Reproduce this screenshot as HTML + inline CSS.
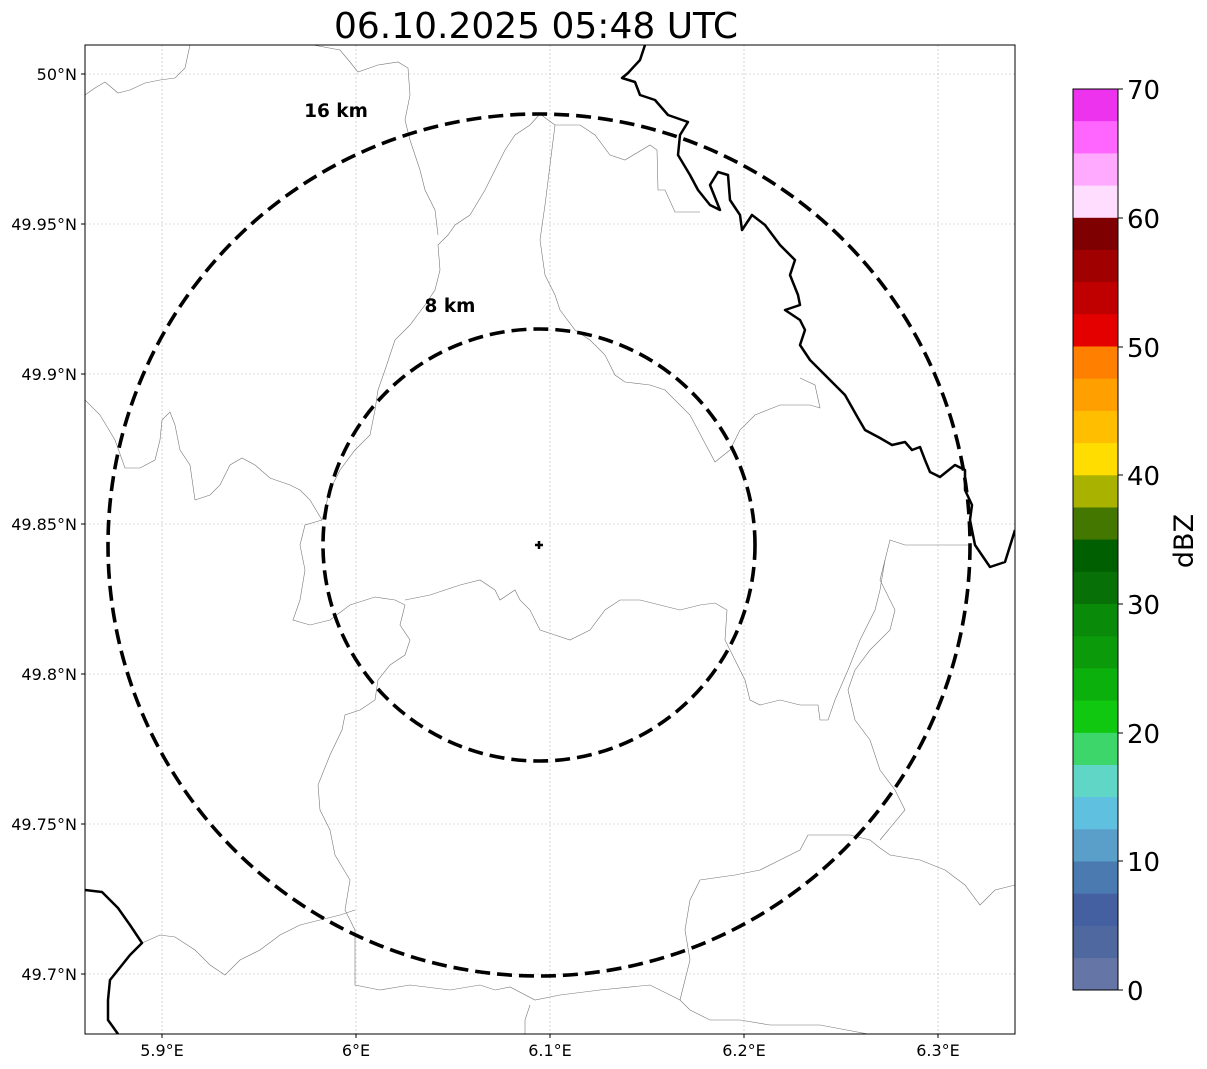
<!DOCTYPE html>
<html><head><meta charset="utf-8"><style>
html,body{margin:0;padding:0;background:#fff;}
svg{display:block;font-family:"DejaVu Sans","Liberation Sans",sans-serif;}
</style></head><body>
<svg width="1207" height="1069" viewBox="0 0 1207 1069" xmlns="http://www.w3.org/2000/svg">
<rect width="1207" height="1069" fill="#fff"/>
<text x="536" y="38" font-size="36" text-anchor="middle">06.10.2025 05:48 UTC</text>
<defs><clipPath id="c"><rect x="85" y="45" width="930" height="989"/></clipPath></defs>
<g clip-path="url(#c)">
<g stroke="#bbb" stroke-width="0.6" stroke-dasharray="2,2">
<line x1="162" y1="45" x2="162" y2="1034"/><line x1="356" y1="45" x2="356" y2="1034"/><line x1="550" y1="45" x2="550" y2="1034"/><line x1="744" y1="45" x2="744" y2="1034"/><line x1="938" y1="45" x2="938" y2="1034"/>
<line x1="85" y1="74" x2="1015" y2="74"/><line x1="85" y1="224" x2="1015" y2="224"/><line x1="85" y1="374" x2="1015" y2="374"/><line x1="85" y1="524" x2="1015" y2="524"/><line x1="85" y1="674" x2="1015" y2="674"/><line x1="85" y1="824" x2="1015" y2="824"/><line x1="85" y1="974" x2="1015" y2="974"/>
</g>
<g fill="none" stroke="#777" stroke-width="0.6">
<polyline points="85,95 95,88 105,82 118,93 130,90 145,83 160,80 175,78 185,68 190,45"/>
<polyline points="313,45 340,50 350,62 358,72 378,65 398,62 408,68 410,95 405,120 410,140 420,170 425,190 435,210 438,235"/>
<polyline points="540,114 530,125 515,135 505,150 495,170 485,190 470,215 455,225 448,235 438,245 440,270 435,290 425,305 410,325 395,340 390,355 385,370 378,390 375,410 370,435 355,450 340,470 330,490 322,520 305,525 300,545 305,570 300,600 293,620 310,625 330,620 350,605 375,597 395,600 405,605 400,625 410,640 405,655 390,665 378,680 375,700 360,710 345,715 342,730 330,755 318,785 320,810 330,830 335,855 350,880 345,910 355,930 355,985 380,990 410,985 450,990 480,985 495,990 510,987 535,1000 560,995 600,990 650,985 680,1000 690,1010 710,1020 740,1020 770,1025 820,1025 868,1034"/>
<polyline points="405,600 430,595 460,585 480,580 495,590 500,600 515,590 520,600 530,610 540,630 555,635 570,640 590,630 605,610 620,600 640,600 660,605 680,610 700,605 715,603 727,610 725,640 735,660 745,680 750,700 760,705 780,700 800,705 818,705 820,720 828,720 835,700 848,670 860,640 875,610 880,590 885,560 890,540 905,545 940,545 968,545"/>
<polyline points="540,114 555,125 550,165 545,205 540,240 545,275 555,295 560,310 575,330 590,340 605,355 615,375 625,382 650,385 665,390 690,415 715,462 730,450 740,430 755,415 780,405 810,405 820,408 815,385 800,378"/>
<polyline points="555,125 580,125 595,135 610,155 625,160 650,145 657,150 658,190 665,190 675,212 700,212"/>
<polyline points="85,400 100,415 115,440 125,468 140,468 155,460 160,440 162,420 170,412 175,425 180,450 190,465 195,500 210,495 220,485 230,465 242,458 255,465 270,478 290,485 300,490 310,500 322,520"/>
<polyline points="142,943 160,935 175,937 195,950 210,965 225,975 240,960 260,950 280,935 300,925 320,920 340,915 355,910"/>
<polyline points="885,560 880,580 895,610 890,630 870,650 855,670 848,690 855,720 870,740 880,770 895,790 905,810 880,840"/>
<polyline points="808,835 850,835 870,840 880,848 890,855 920,860 945,870 965,885 980,905 995,890 1015,885"/>
<polyline points="808,835 800,850 780,860 760,870 735,875 700,880 690,900 685,930 690,960 680,1000"/>
<polyline points="525,1034 525,1020 530,1005"/>
</g>
<g fill="none" stroke="#000" stroke-width="2.5" stroke-linejoin="round">
<polyline points="645,45 640,60 628,73 622,78 635,82 640,95 655,100 668,115 688,122 680,135 678,155 690,175 698,190 710,205 720,210 710,185 718,172 728,175 730,200 740,215 742,230 752,215 765,225 780,245 795,260 790,275 798,295 800,305 785,310 800,320 805,330 800,345 810,360 820,370 835,385 845,395 858,418 865,430 880,438 892,445 905,442 912,450 920,447 925,460 930,472 940,477 955,465 965,470 965,490 972,505 970,520 975,545 990,567 1005,562 1015,530"/>
<polyline points="85,890 102,892 118,908 130,925 142,943 130,955 118,970 110,980 108,1000 108,1020 118,1034"/>
</g>
<g fill="none" stroke="#000" stroke-width="3.6" stroke-dasharray="15,7">
<circle cx="539" cy="545" r="431"/>
<circle cx="539" cy="545" r="216"/>
</g>
<path d="M535,545h8M539,541v8" stroke="#000" stroke-width="2.5"/>
</g>
<rect x="85" y="45" width="930" height="989" fill="none" stroke="#000" stroke-width="1"/>
<text x="336" y="117" font-size="18.5" font-weight="bold" text-anchor="middle">16 km</text>
<text x="450" y="312" font-size="18.5" font-weight="bold" text-anchor="middle">8 km</text>
<g font-size="16" text-anchor="end">
<text x="77" y="80">50°N</text><text x="77" y="230">49.95°N</text><text x="77" y="380">49.9°N</text><text x="77" y="530">49.85°N</text><text x="77" y="680">49.8°N</text><text x="77" y="830">49.75°N</text><text x="77" y="980">49.7°N</text>
</g>
<g font-size="16" text-anchor="middle">
<text x="162" y="1056">5.9°E</text><text x="356" y="1056">6°E</text><text x="550" y="1056">6.1°E</text><text x="744" y="1056">6.2°E</text><text x="938" y="1056">6.3°E</text>
</g>
<g stroke="#000" stroke-width="1"><line x1="162" y1="1034" x2="162" y2="1038"/><line x1="356" y1="1034" x2="356" y2="1038"/><line x1="550" y1="1034" x2="550" y2="1038"/><line x1="744" y1="1034" x2="744" y2="1038"/><line x1="938" y1="1034" x2="938" y2="1038"/>
<line x1="81" y1="74" x2="85" y2="74"/><line x1="81" y1="224" x2="85" y2="224"/><line x1="81" y1="374" x2="85" y2="374"/><line x1="81" y1="524" x2="85" y2="524"/><line x1="81" y1="674" x2="85" y2="674"/><line x1="81" y1="824" x2="85" y2="824"/><line x1="81" y1="974" x2="85" y2="974"/></g>
<g>
<rect x="1073" y="89.0" width="45" height="33" fill="#ee33ee"/>
<rect x="1073" y="121.2" width="45" height="33" fill="#ff66ff"/>
<rect x="1073" y="153.4" width="45" height="33" fill="#ffaaff"/>
<rect x="1073" y="185.6" width="45" height="33" fill="#ffddff"/>
<rect x="1073" y="217.8" width="45" height="33" fill="#7f0000"/>
<rect x="1073" y="250.0" width="45" height="33" fill="#a00000"/>
<rect x="1073" y="282.1" width="45" height="33" fill="#c00000"/>
<rect x="1073" y="314.3" width="45" height="33" fill="#e50000"/>
<rect x="1073" y="346.5" width="45" height="33" fill="#ff7f00"/>
<rect x="1073" y="378.7" width="45" height="33" fill="#ff9f00"/>
<rect x="1073" y="410.9" width="45" height="33" fill="#ffbf00"/>
<rect x="1073" y="443.1" width="45" height="33" fill="#ffdd00"/>
<rect x="1073" y="475.3" width="45" height="33" fill="#aab200"/>
<rect x="1073" y="507.5" width="45" height="33" fill="#447700"/>
<rect x="1073" y="539.6" width="45" height="33" fill="#005f00"/>
<rect x="1073" y="571.8" width="45" height="33" fill="#077007"/>
<rect x="1073" y="604.0" width="45" height="33" fill="#098a09"/>
<rect x="1073" y="636.2" width="45" height="33" fill="#0a9a0a"/>
<rect x="1073" y="668.4" width="45" height="33" fill="#0cb00c"/>
<rect x="1073" y="700.6" width="45" height="33" fill="#10c810"/>
<rect x="1073" y="732.8" width="45" height="33" fill="#3dd66b"/>
<rect x="1073" y="765.0" width="45" height="33" fill="#60d6c6"/>
<rect x="1073" y="797.1" width="45" height="33" fill="#60c0e0"/>
<rect x="1073" y="829.3" width="45" height="33" fill="#5a9fc9"/>
<rect x="1073" y="861.5" width="45" height="33" fill="#4a7ab0"/>
<rect x="1073" y="893.7" width="45" height="33" fill="#4460a0"/>
<rect x="1073" y="925.9" width="45" height="33" fill="#5068a0"/>
<rect x="1073" y="958.1" width="45" height="32" fill="#6475a6"/>
<rect x="1073" y="89" width="45" height="901" fill="none" stroke="#000" stroke-width="1"/>
</g>
<g stroke="#000" stroke-width="1"><line x1="1118" y1="89" x2="1123" y2="89"/><line x1="1118" y1="218" x2="1123" y2="218"/><line x1="1118" y1="347" x2="1123" y2="347"/><line x1="1118" y1="475" x2="1123" y2="475"/><line x1="1118" y1="604" x2="1123" y2="604"/><line x1="1118" y1="733" x2="1123" y2="733"/><line x1="1118" y1="861" x2="1123" y2="861"/><line x1="1118" y1="990" x2="1123" y2="990"/></g>
<g font-size="26">
<text x="1127" y="99">70</text><text x="1127" y="228">60</text><text x="1127" y="357">50</text><text x="1127" y="485">40</text><text x="1127" y="614">30</text><text x="1127" y="743">20</text><text x="1127" y="871">10</text><text x="1127" y="1000">0</text>
</g>
<text x="1193" y="541" font-size="27" text-anchor="middle" transform="rotate(-90 1193 541)">dBZ</text>
</svg>
</body></html>
